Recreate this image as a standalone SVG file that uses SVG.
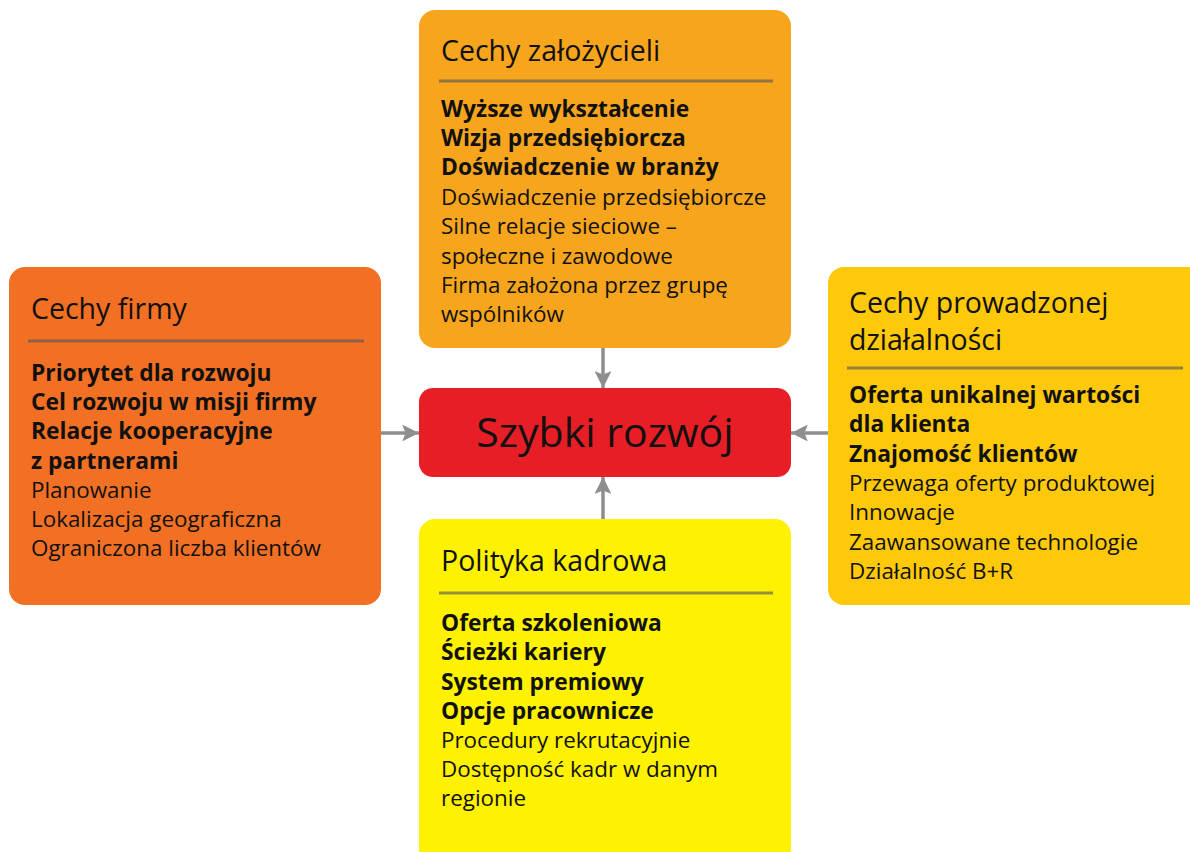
<svg xmlns="http://www.w3.org/2000/svg" width="1190" height="852" viewBox="0 0 1190 852">
<defs>
<style>
.t{font-family:"Open Sans","Noto Sans","Liberation Sans",sans-serif;fill:#111}
.h{font-size:28.5px}
.b{font-size:22.8px;font-weight:bold}
.n{font-size:22.4px}
.sep{stroke:#5a5a5a;stroke-opacity:0.65;stroke-width:3}
.con{stroke:#8e8e8e;stroke-width:3.5;fill:none}
</style>
<marker id="ah" viewBox="0 0 10 10" refX="10" refY="5" markerWidth="5" markerHeight="4.8" orient="auto" markerUnits="strokeWidth">
<path d="M0,0 L10,5 L0,10 L2,5 z" fill="#8e8e8e"/>
</marker>
</defs>
<rect width="1190" height="852" fill="#fff"/>
<g id="connectors">
<line class="con" x1="603" y1="348" x2="603" y2="388" marker-end="url(#ah)"/>
<line class="con" x1="381" y1="433" x2="419" y2="433" marker-end="url(#ah)"/>
<line class="con" x1="828" y1="433" x2="791" y2="433" marker-end="url(#ah)"/>
<line class="con" x1="603" y1="519" x2="603" y2="477" marker-end="url(#ah)"/>
</g>
<g id="zalozyciele">
<rect x="419" y="10" width="372" height="338" rx="16" fill="#f7a51d"/>
<text class="t h" x="441" y="61">Cechy założycieli</text>
<line class="sep" x1="439" y1="81" x2="773" y2="81"/>
<text class="t b" x="441" y="117">Wyższe wykształcenie</text>
<text class="t b" x="441" y="146">Wizja przedsiębiorcza</text>
<text class="t b" x="441" y="175">Doświadczenie w branży</text>
<text class="t n" x="441" y="205">Doświadczenie przedsiębiorcze</text>
<text class="t n" x="441" y="234">Silne relacje sieciowe –</text>
<text class="t n" x="441" y="264">społeczne i zawodowe</text>
<text class="t n" x="441" y="293">Firma założona przez grupę</text>
<text class="t n" x="441" y="322">wspólników</text>
</g>
<g id="firma">
<rect x="9" y="267" width="372" height="338" rx="16" fill="#f17024"/>
<text class="t h" x="31" y="319">Cechy firmy</text>
<line class="sep" x1="28" y1="341" x2="364" y2="341"/>
<text class="t b" x="31" y="381">Priorytet dla rozwoju</text>
<text class="t b" x="31" y="410">Cel rozwoju w misji firmy</text>
<text class="t b" x="31" y="439">Relacje kooperacyjne</text>
<text class="t b" x="31" y="469">z partnerami</text>
<text class="t n" x="31" y="498">Planowanie</text>
<text class="t n" x="31" y="527">Lokalizacja geograficzna</text>
<text class="t n" x="31" y="556">Ograniczona liczba klientów</text>
</g>
<g id="dzialalnosc">
<rect x="828" y="267" width="380" height="338" rx="16" fill="#fec80b"/>
<text class="t h" x="849" y="313">Cechy prowadzonej</text>
<text class="t h" x="849" y="350">działalności</text>
<line class="sep" x1="847" y1="368" x2="1183" y2="368"/>
<text class="t b" x="849" y="403">Oferta unikalnej wartości</text>
<text class="t b" x="849" y="432">dla klienta</text>
<text class="t b" x="849" y="462">Znajomość klientów</text>
<text class="t n" x="849" y="491">Przewaga oferty produktowej</text>
<text class="t n" x="849" y="520">Innowacje</text>
<text class="t n" x="849" y="550">Zaawansowane technologie</text>
<text class="t n" x="849" y="579">Działalność B+R</text>
</g>
<g id="rozwoj">
<rect x="419" y="388" width="372" height="89" rx="14" fill="#e81e26"/>
<text class="t" x="605" y="447" font-size="41" text-anchor="middle">Szybki rozwój</text>
</g>
<g id="kadry">
<rect x="419" y="519" width="372" height="360" rx="16" fill="#fff200"/>
<text class="t h" x="441" y="571">Polityka kadrowa</text>
<line class="sep" x1="439" y1="593" x2="773" y2="593"/>
<text class="t b" x="441" y="631">Oferta szkoleniowa</text>
<text class="t b" x="441" y="660">Ścieżki kariery</text>
<text class="t b" x="441" y="690">System premiowy</text>
<text class="t b" x="441" y="719">Opcje pracownicze</text>
<text class="t n" x="441" y="748">Procedury rekrutacyjnie</text>
<text class="t n" x="441" y="777">Dostępność kadr w danym</text>
<text class="t n" x="441" y="806">regionie</text>
</g>
</svg>
